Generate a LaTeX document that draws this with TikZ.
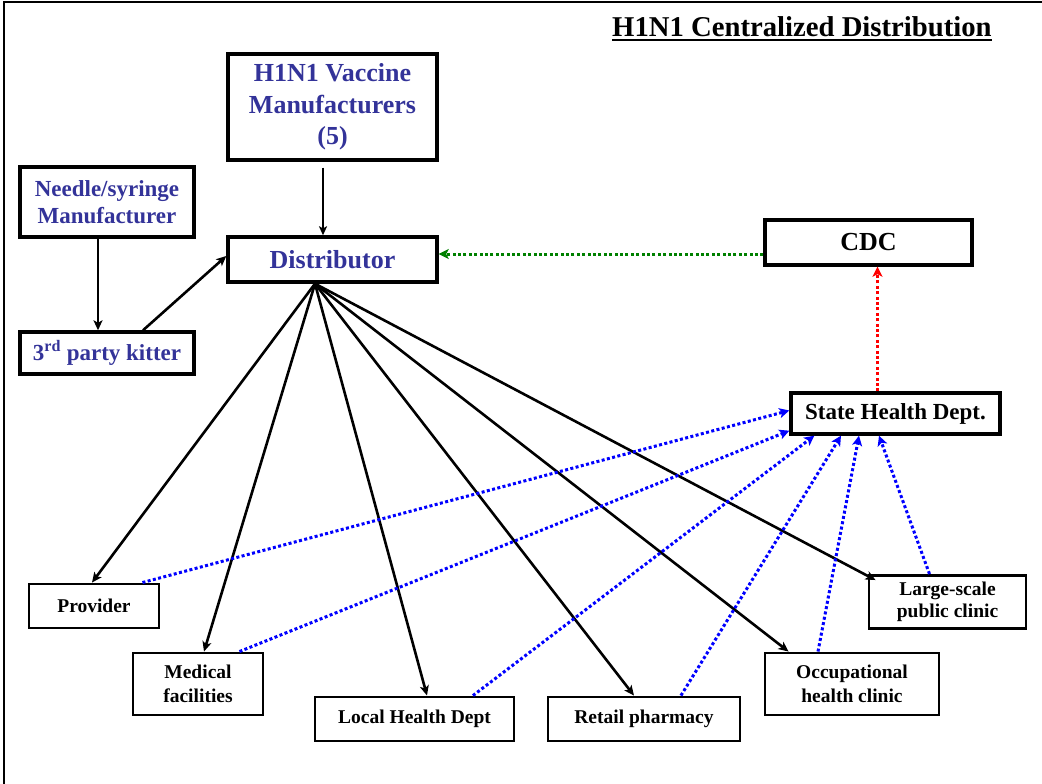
\documentclass[tikz,border=0pt]{standalone}
\usepackage{fontspec}
\setmainfont{Liberation Serif}
\usetikzlibrary{arrows.meta}
\definecolor{navy}{RGB}{51,51,153}
\definecolor{dgreen}{RGB}{0,128,0}
\begin{document}
\begin{tikzpicture}[x=1pt,y=-1pt,
  topbox/.style={draw, line width=3.4pt, inner sep=0pt, align=center},
  botbox/.style={draw, line width=2.9pt, inner sep=0pt, align=center},
  bigf/.style={font=\bfseries\fontsize{26}{31.5}\selectfont},
  midf/.style={font=\bfseries\fontsize{23}{27}\selectfont},
  smallf/.style={font=\bfseries\fontsize{19.5}{23.5}\selectfont},
  arr/.style={line width=2.6pt, -{Stealth[length=10pt,width=9pt,inset=2.5pt]}},
  thinarr/.style={line width=1.5pt, -{Stealth[length=9pt,width=8pt,inset=2pt]}},
  dotline/.style={line width=3pt, dash pattern=on 3pt off 2.4pt, -{Stealth[length=10pt,width=10pt,inset=2.5pt]}},
  blu/.style={dotline, draw=blue},
]
\useasboundingbox (0,0) rectangle (1042,784);
% frame
\draw[line width=2.8pt] (4,800) -- (4,2) -- (1060,2);

% title
\node[anchor=base west, inner sep=0pt, font=\bfseries\fontsize{28.7}{34}\selectfont] (title) at (612,36.7) {H1N1 Centralized Distribution};
\draw[line width=2.4pt] ([yshift=-3.5pt]title.base west) -- ([yshift=-3.5pt]title.base east);

% top nodes
\node[topbox, bigf, text=navy, minimum width=209pt, minimum height=106pt, text depth=6pt] (vac) at (332.5,107) {H1N1 Vaccine\\Manufacturers\\(5)};
\node[topbox, midf, text=navy, minimum width=174pt, minimum height=70pt] (needle) at (107,202) {Needle/syringe\\Manufacturer};
\node[topbox, bigf, text=navy, minimum width=209pt, minimum height=45pt] (dist) at (332.5,259.5) {Distributor};
\node[topbox, midf, text=navy, minimum width=174pt, minimum height=42pt] (kitter) at (107,353) {3\textsuperscript{rd} party kitter};
\node[topbox, bigf, minimum width=207pt, minimum height=45pt] (cdc) at (868.5,242.5) {CDC};
\node[topbox, midf, minimum width=209pt, minimum height=41pt] (shd) at (895.5,413.5) {State Health Dept.};

% bottom nodes
\node[botbox, smallf, minimum width=130pt, minimum height=44pt] (prov) at (94,606) {Provider};
\node[botbox, smallf, minimum width=130pt, minimum height=62pt] (med) at (198,684) {Medical\\facilities};
\node[botbox, smallf, minimum width=199pt, minimum height=44pt] (lhd) at (414.5,719) {Local Health Dept};
\node[botbox, smallf, minimum width=192pt, minimum height=44pt] (retail) at (644,719) {Retail pharmacy};
\node[botbox, smallf, minimum width=174pt, minimum height=62pt] (occ) at (852,684) {Occupational\\health clinic};
\node[botbox, smallf, minimum width=157pt, minimum height=53pt] (large) at (947.5,602) {Large-scale\\[-1pt]public clinic};

% supply arrows
\draw[thinarr, shorten <=6pt] ([xshift=-9.5pt]vac.south) -- ([xshift=-9.5pt]dist.north);
\draw[arr] ([xshift=-9pt]needle.south) -- ([xshift=-9pt]kitter.north);
\draw[arr] ([xshift=36pt]kitter.north) -- ([yshift=3.5pt]dist.west);

\coordinate (hub) at ([xshift=-17.5pt]dist.south);
\draw[arr] (hub) -- ([xshift=-2pt]prov.north);
\draw[arr] (hub) -- ([xshift=6pt]med.north);
\draw[arr] (hub) -- ([xshift=12.5pt]lhd.north);
\draw[arr] (hub) -- ([xshift=-10pt]retail.north);
\draw[arr] (hub) -- ([xshift=25pt]occ.north west);
\draw[arr] (hub) -- ([shift={(8pt,-6pt)}]large.north west);

% CDC links
\draw[dotline, draw=dgreen] ([yshift=-11.5pt]cdc.west) -- ([yshift=5.5pt]dist.east);
\draw[dotline, draw=red] ([xshift=-18pt]shd.north) -- ([xshift=9pt]cdc.south);

% reporting links to state
\draw[blu] ([xshift=-18pt]prov.north east) -- ([yshift=3pt]shd.west);
\draw[blu] ([xshift=-25pt]med.north east) -- ([yshift=5pt]shd.south west);
\draw[blu] ([xshift=-42.5pt]lhd.north east) -- ([xshift=25pt]shd.south west);
\draw[blu] ([xshift=-60.5pt]retail.north east) -- ([xshift=-54.5pt]shd.south);
\draw[blu] ([xshift=-34pt]occ.north) -- ([xshift=-36.5pt]shd.south);
\draw[blu] ([xshift=-18pt]large.north) -- ([xshift=-16.5pt]shd.south);
\end{tikzpicture}
\end{document}
